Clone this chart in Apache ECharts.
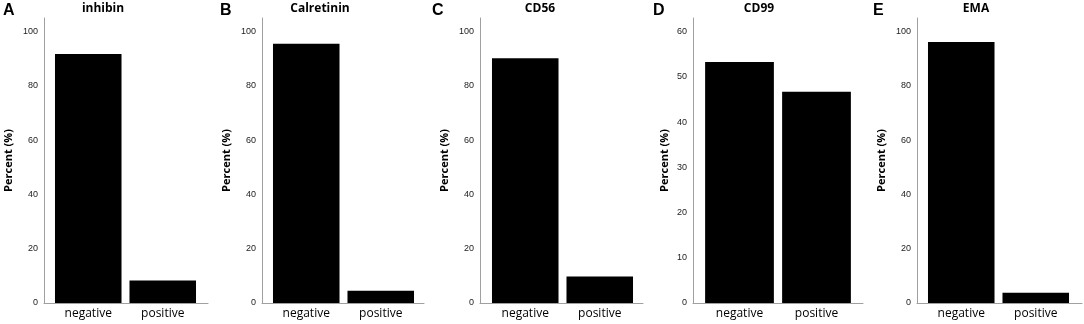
<!DOCTYPE html>
<html>
<head>
<meta charset="utf-8">
<script src="https://cdn.jsdelivr.net/npm/echarts@6/dist/echarts.min.js"></script>
<style>
html,body{margin:0;padding:0;background:#fff;}
#chart{width:1084px;height:324px;}
</style>
</head>
<body>
<div id="chart"></div>
<script>
// ---- data ----
const categories = ['negative', 'positive'];
const markers = ['inhibin', 'Calretinin', 'CD56', 'CD99', 'EMA'];
const panelLetters = ['A', 'B', 'C', 'D', 'E'];
const inhibin = [91.7, 8.3];
const calretinin = [95.5, 4.5];
const cd56 = [90.2, 9.8];
const cd99 = [53.3, 46.7];
const ema = [96.2, 3.8];
const yMaxes = [105, 105, 105, 63, 105];
const yIntervals = [20, 20, 20, 10, 20];
const yAxisName = 'Percent (%)';

const seriesValues = [inhibin, calretinin, cd56, cd99, ema];

// ---- layout (pixels) ----
const layout = [
  {axis: 44,  left: 51,  right: 200,  end: 208,  gap: 30, title: 103, letter: 3},
  {axis: 262, left: 269, right: 418,  end: 424,  gap: 30, title: 320, letter: 220},
  {axis: 480, left: 488, right: 637,  end: 643,  gap: 30, title: 540, letter: 432},
  {axis: 693, left: 701, right: 855,  end: 863,  gap: 23, title: 759, letter: 653},
  {axis: 917, left: 924, right: 1073, end: 1082, gap: 30, title: 976, letter: 873}
];
const TOP = 18, BOTTOM_Y = 303;
const axisColor = '#a0a0a0';

const grid = [], xAxis = [], yAxis = [], series = [], title = [];
layout.forEach((L, i) => {
  const g = i * 2;
  grid.push({left: L.left, top: TOP, width: L.right - L.left, height: BOTTOM_Y - TOP, containLabel: false});
  grid.push({left: L.axis, top: TOP, width: L.end - L.axis, height: BOTTOM_Y - TOP, containLabel: false});
  xAxis.push({
    gridIndex: g, type: 'category', data: categories,
    axisLine: {show: false}, axisTick: {show: false},
    axisLabel: {color: '#000', fontSize: 12, fontFamily: 'Open Sans', margin: 5}
  });
  xAxis.push({
    gridIndex: g + 1, type: 'value', min: 0, max: 1,
    axisLine: {show: true, onZero: false, lineStyle: {color: axisColor, width: 1}},
    axisTick: {show: false}, axisLabel: {show: false}, splitLine: {show: false}
  });
  const itv = yIntervals[i];
  yAxis.push({
    gridIndex: g, type: 'value', min: 0, max: yMaxes[i], interval: itv,
    offset: L.left - L.axis,
    axisLine: {show: true, lineStyle: {color: axisColor, width: 1}},
    axisTick: {show: false}, splitLine: {show: false},
    axisLabel: {
      color: '#222', fontSize: 9, fontFamily: 'Liberation Sans', margin: 6,
      showMaxLabel: false,
      formatter: v => (v % itv === 0 ? String(v) : '')
    },
    name: yAxisName, nameLocation: 'middle', nameGap: L.gap, nameRotate: 90,
    nameTextStyle: {color: '#000', fontSize: 11, fontWeight: 'bold', fontFamily: 'Open Sans'}
  });
  yAxis.push({gridIndex: g + 1, type: 'value', min: 0, max: 1, show: false});
  series.push({
    type: 'bar', xAxisIndex: g, yAxisIndex: g, data: seriesValues[i],
    barCategoryGap: '10.7%',
    itemStyle: {color: '#000'}, silent: true, animation: false
  });
  title.push({
    text: markers[i], left: L.title, top: 3, textAlign: 'center', padding: 0,
    textStyle: {fontSize: 12, fontWeight: 'bold', fontFamily: 'Open Sans', color: '#000'}
  });
  title.push({
    text: panelLetters[i], left: L.letter, top: 3, padding: 0,
    textStyle: {fontSize: 16, fontWeight: 'bold', fontFamily: 'Liberation Sans', color: '#000'}
  });
});

const chart = echarts.init(document.getElementById('chart'), null, {renderer: 'canvas'});
chart.setOption({animation: false, backgroundColor: '#fff', title, grid, xAxis, yAxis, series});
</script>
</body>
</html>
